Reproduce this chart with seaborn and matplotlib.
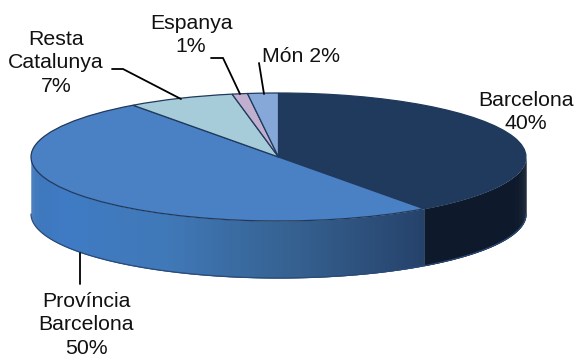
import numpy as np
import matplotlib
matplotlib.use("Agg")
import matplotlib.pyplot as plt
import seaborn as sns

labels = ["Barcelona\n40%", "Província\nBarcelona\n50%", "Resta\nCatalunya\n7%", "Espanya\n1%", "Món 2%"]
values = [40, 50, 7, 1, 2]
top_colors = ["#1f3a5c", "#4a80c4", "#a5ccd8", "#c0afcf", "#85a8d8"]
wall_ramps = [["#0e1a2b", "#0e1a2b"],
              ["#25426a", "#35608f", "#4079b8", "#3f7bc4", "#3c74b8"],
              ["#a5ccd8", "#a5ccd8"], ["#c0afcf", "#c0afcf"], ["#85a8d8", "#85a8d8"]]

W, H = 576, 357
CX, CY, RX, RY, DEPTH = 278.5, 157, 247.5, 64, 57

sns.set_theme(style="white")
plt.rcParams["font.family"] = ["Liberation Sans", "DejaVu Sans"]

fig = plt.figure(figsize=(W / 100, H / 100), dpi=100)
ax = fig.add_axes([0, 0, 1, 1])
ax.pie(values, colors=top_colors, startangle=90, counterclock=False, radius=1,
       wedgeprops=dict(edgecolor="#20395c", linewidth=0.9, zorder=5))
ax.set_aspect("auto")
ax.set_xlim(-CX / RX, (W - CX) / RX)
ax.set_ylim((CY - H) / RY, CY / RY)
d = DEPTH / RY

# side wall of the visible front half
fractions = np.cumsum([0] + values) / sum(values)
for i in range(len(values)):
    a0 = 90 - 360 * fractions[i]
    a1 = 90 - 360 * fractions[i + 1]
    lo, hi = max(a1, -180), min(a0, 0)
    if lo >= hi:
        continue
    n = max(int((hi - lo) * 2), 2)
    palette = sns.blend_palette(wall_ramps[i], n)
    edges = np.radians(np.linspace(hi, lo, n + 1))
    for j in range(n):
        # each strip overlaps the next one, which paints over it, so no seams show
        t = np.linspace(edges[j], edges[min(j + 2, n)], 6)
        ax.fill_between(np.cos(t), np.sin(t), np.sin(t) - d, color=palette[j],
                        linewidth=0, zorder=2)
    t = np.radians(np.linspace(hi, lo, 200))
    ax.plot(np.cos(t), np.sin(t) - d, color="#2a4a78", lw=0.9, zorder=3)
ax.axis("off")

# overlay in pixel units for labels and leader lines
ov = fig.add_axes([0, 0, 1, 1], facecolor="none")
ov.set_xlim(0, W)
ov.set_ylim(H, 0)
ov.axis("off")

label_pos = [(526, 112), (86, 325), (56, 63), (191, 35), (301, 56)]
for text, (x, y) in zip(labels, label_pos):
    ov.text(x, y, text, ha="center", va="center", fontsize=15.3, color="#111111",
            linespacing=1.28)

leaders = [([112, 123, 181], [69, 69, 99]),
           ([211, 223, 240], [58, 58, 94]),
           ([259, 264], [63, 94]),
           ([80, 80], [253, 284])]
for xs, ys in leaders:
    ov.plot(xs, ys, color="black", lw=1.3, solid_joinstyle="miter")

fig.savefig("out.png", dpi=100, facecolor="white")
